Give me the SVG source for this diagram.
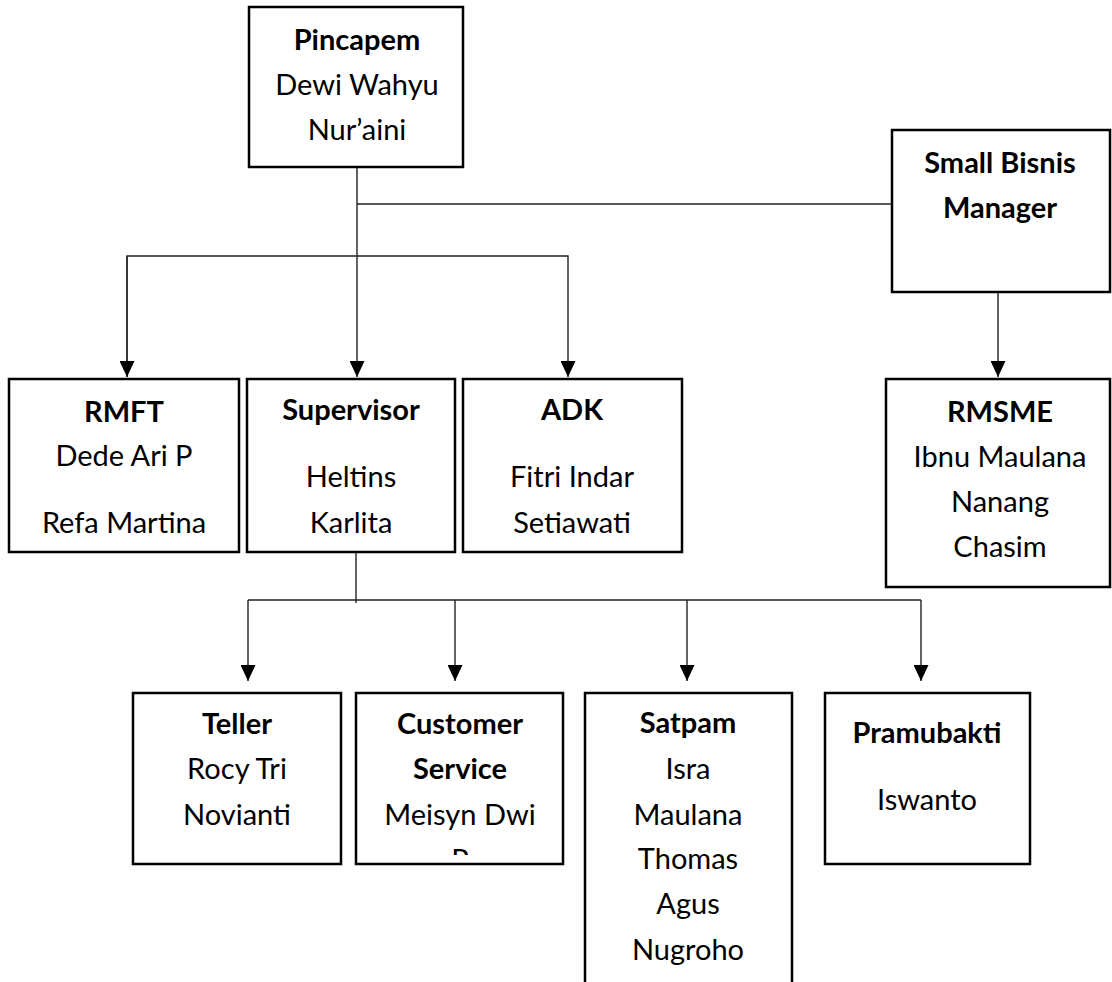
<svg xmlns="http://www.w3.org/2000/svg" width="1112" height="982" viewBox="0 0 1112 982">
<style>
.box{fill:#fff;stroke:#000;stroke-width:2.5}
.ln{fill:none;stroke:#222;stroke-width:1.4}
text{font-family:Lato,"Open Sans","Liberation Sans",sans-serif;font-size:29px;fill:#000;text-anchor:middle}
.t{font-weight:bold}
</style>
<defs>
<marker id="ah" markerUnits="userSpaceOnUse" markerWidth="15" markerHeight="17" viewBox="0 0 15 17" refX="7.5" refY="16" orient="0">
<path d="M0,0 L15,0 L7.5,16 Z" fill="#000"/>
</marker>
<clipPath id="csclip"><rect x="356" y="693" width="207" height="162"/></clipPath>
</defs>
<g id="connectors">
<path class="ln" d="M357,167 V377" marker-end="url(#ah)"/>
<path class="ln" d="M357,204 H892"/>
<path class="ln" d="M127,377 V256 H568 V377" marker-end="url(#ah)"/>
<path class="ln" d="M127,256 V377" marker-end="url(#ah)"/>
<path class="ln" d="M998,287 V377" marker-end="url(#ah)"/>
<path class="ln" d="M356,552 V603"/>
<path class="ln" d="M248,600 H921"/>
<path class="ln" d="M248,600 V681" marker-end="url(#ah)"/>
<path class="ln" d="M455,600 V681" marker-end="url(#ah)"/>
<path class="ln" d="M687,600 V681" marker-end="url(#ah)"/>
<path class="ln" d="M921,600 V681" marker-end="url(#ah)"/>
</g>
<g id="pincapem">
<rect class="box" x="249" y="7" width="214" height="160"/>
<text x="357" y="50" class="t">Pincapem</text>
<text x="357" y="95">Dewi Wahyu</text>
<text x="357" y="140">Nur’aini</text>
</g>
<g id="sbm">
<rect class="box" x="892" y="130" width="218" height="162"/>
<text x="1000" y="173" class="t">Small Bisnis</text>
<text x="1000" y="218" class="t">Manager</text>
</g>
<g id="rmft">
<rect class="box" x="9" y="379" width="230" height="173"/>
<text x="124" y="422" class="t">RMFT</text>
<text x="124" y="466">Dede Ari P</text>
<text x="124" y="533">Refa Martina</text>
</g>
<g id="supervisor">
<rect class="box" x="247" y="379" width="208" height="173"/>
<text x="351" y="420" class="t">Supervisor</text>
<text x="351" y="487">Heltins</text>
<text x="351" y="533">Karlita</text>
</g>
<g id="adk">
<rect class="box" x="463" y="379" width="219" height="173"/>
<text x="572" y="420" class="t">ADK</text>
<text x="572" y="487">Fitri Indar</text>
<text x="572" y="533">Setiawati</text>
</g>
<g id="rmsme">
<rect class="box" x="886" y="379" width="224" height="208"/>
<text x="1000" y="422" class="t">RMSME</text>
<text x="1000" y="467">Ibnu Maulana</text>
<text x="1000" y="512">Nanang</text>
<text x="1000" y="557">Chasim</text>
</g>
<g id="teller">
<rect class="box" x="133" y="693" width="208" height="171"/>
<text x="237" y="734" class="t">Teller</text>
<text x="237" y="779">Rocy Tri</text>
<text x="237" y="825">Novianti</text>
</g>
<g id="cs">
<rect class="box" x="356" y="693" width="207" height="171"/>
<text x="460" y="734" class="t">Customer</text>
<text x="460" y="779" class="t">Service</text>
<text x="460" y="825">Meisyn Dwi</text>
<text x="460" y="870" clip-path="url(#csclip)">P</text>
</g>
<g id="satpam">
<rect class="box" x="585" y="693" width="207" height="300"/>
<text x="688" y="733" class="t">Satpam</text>
<text x="688" y="779">Isra</text>
<text x="688" y="825">Maulana</text>
<text x="688" y="869">Thomas</text>
<text x="688" y="914">Agus</text>
<text x="688" y="960">Nugroho</text>
</g>
<g id="pramubakti">
<rect class="box" x="825" y="693" width="205" height="171"/>
<text x="927" y="743" class="t">Pramubakti</text>
<text x="927" y="810">Iswanto</text>
</g>
</svg>
